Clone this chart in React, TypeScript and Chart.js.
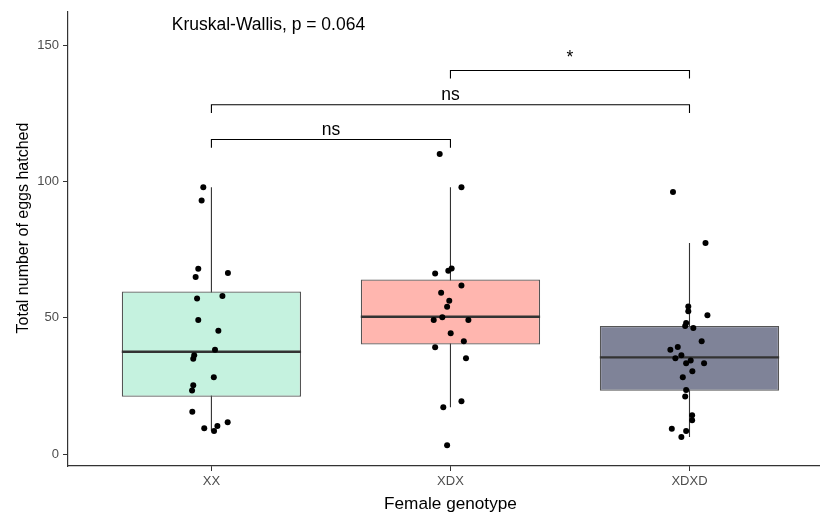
import React, { useEffect, useRef } from 'react';
import { Chart, registerables } from 'chart.js';

Chart.register(...registerables);

const categories = ['XX', 'XDX', 'XDXD'];
const fillColors = ['#C5F2DF', '#FFB6AF', '#7F8398'];

const xxValues = [97.9, 93.0, 68.0, 65.0, 66.4, 57.1, 58.0, 49.2, 45.3, 38.3, 36.3, 35.0, 28.2, 25.3, 23.4, 15.6, 9.5, 10.4, 8.5, 11.7];
const xxJitter = [-0.034, -0.041, -0.055, -0.066, 0.069, -0.06, 0.046, -0.055, 0.029, 0.015, -0.072, -0.076, 0.01, -0.076, -0.081, -0.08, -0.03, 0.025, 0.011, 0.068];

const xdxValues = [110.1, 97.9, 66.3, 67.3, 68.1, 61.9, 59.2, 56.3, 54.1, 49.2, 50.2, 49.2, 44.4, 41.4, 39.2, 35.2, 19.4, 17.2, 3.3];
const xdxJitter = [-0.045, 0.046, -0.064, -0.009, 0.005, 0.046, -0.039, -0.005, -0.014, -0.07, -0.034, 0.075, 0.001, 0.056, -0.064, 0.065, 0.046, -0.03, -0.014];

const xdxdValues = [96.1, 77.4, 54.2, 52.4, 51.0, 48.1, 47.0, 46.3, 41.4, 39.3, 38.3, 36.3, 35.2, 34.4, 33.4, 33.4, 30.4, 28.2, 23.6, 21.2, 14.3, 12.5, 9.4, 8.5, 6.3];
const xdxdJitter = [-0.069, 0.067, -0.005, -0.005, 0.075, -0.014, -0.018, 0.016, 0.051, -0.049, -0.08, -0.034, -0.059, 0.005, -0.014, 0.061, 0.012, -0.028, -0.014, -0.018, 0.011, 0.011, -0.074, -0.014, -0.034];

const q1 = [21.1, 40.2, 23.3];
const medians = [37.6, 50.4, 35.5];
const q3 = [59.7, 64.1, 47.0];
const whiskerLow = [8.5, 17.2, 6.3];
const whiskerHigh = [97.9, 97.9, 77.4];

const yTicks = [0, 50, 100, 150];

const bracketFrom = [1, 1, 2];
const bracketTo = [2, 3, 3];
const bracketY = [115.4, 128.1, 140.7];
const bracketLabels = ['ns', 'ns', '*'];
const bracketDrop = 3;

const testLabel = 'Kruskal-Wallis, p = 0.064';
const testLabelX = 0.834;
const testLabelY = 157.3;

const yTitle = 'Total number of eggs hatched';
const xTitle = 'Female genotype';

const FONT = "'Liberation Sans', Arial, sans-serif";
const AXIS = '#333333';

export default function App() {
  const ref = useRef<HTMLCanvasElement | null>(null);

  useEffect(() => {
    if (!ref.current) return;
    const groups = [
      { v: xxValues, j: xxJitter },
      { v: xdxValues, j: xdxJitter },
      { v: xdxdValues, j: xdxdJitter },
    ];
    const points: { x: number; y: number }[] = [];
    groups.forEach((g, gi) => {
      g.v.forEach((val, i) => points.push({ x: gi + 1 + g.j[i], y: val }));
    });

    const datasets: any[] = [];
    categories.forEach((_, i) => {
      datasets.push({
        type: 'line',
        data: [
          { x: i + 1, y: whiskerLow[i] },
          { x: i + 1, y: whiskerHigh[i] },
        ],
        borderColor: AXIS,
        borderWidth: 1.1,
        pointRadius: 0,
        order: 10,
      });
    });
    datasets.push({
      type: 'bar',
      data: categories.map((_, i) => ({ x: i + 1, y: [q1[i], q3[i]] })),
      backgroundColor: fillColors,
      borderColor: '#555555',
      borderWidth: 1.3,
      borderSkipped: false,
      barPercentage: 0.75,
      categoryPercentage: 1,
      order: 9,
    });
    categories.forEach((_, i) => {
      datasets.push({
        type: 'line',
        data: [
          { x: i + 1 - 0.375, y: medians[i] },
          { x: i + 1 + 0.375, y: medians[i] },
        ],
        borderColor: AXIS,
        borderWidth: 2.4,
        pointRadius: 0,
        order: 8,
      });
    });
    datasets.push({
      type: 'scatter',
      data: points,
      backgroundColor: '#000000',
      borderWidth: 0,
      pointRadius: 3,
      order: 5,
    });
    bracketFrom.forEach((f, i) => {
      const t = bracketTo[i];
      const y = bracketY[i];
      datasets.push({
        type: 'line',
        data: [
          { x: f, y: y - bracketDrop },
          { x: f, y },
          { x: t, y },
          { x: t, y: y - bracketDrop },
        ],
        borderColor: '#000000',
        borderWidth: 1.1,
        pointRadius: 0,
        order: 2,
      });
    });

    const textPlugin = {
      id: 'texts',
      afterDatasetsDraw(chart: any) {
        const ctx = chart.ctx;
        const xs = chart.scales.x;
        const ys = chart.scales.y;
        ctx.save();
        ctx.fillStyle = '#000000';
        ctx.font = `17.5px ${FONT}`;
        ctx.textBaseline = 'alphabetic';
        ctx.textAlign = 'center';
        bracketLabels.forEach((lab, i) => {
          const cx = xs.getPixelForValue((bracketFrom[i] + bracketTo[i]) / 2);
          const cy = ys.getPixelForValue(bracketY[i]) - 4.5 - (lab === '*' ? 3 : 0);
          ctx.fillText(lab, cx, cy);
        });
        ctx.textAlign = 'left';
        ctx.textBaseline = 'middle';
        ctx.fillText(testLabel, xs.getPixelForValue(testLabelX), ys.getPixelForValue(testLabelY));
        // axis titles
        ctx.font = `17.2px ${FONT}`;
        ctx.textAlign = 'center';
        ctx.textBaseline = 'alphabetic';
        ctx.fillText(xTitle, xs.getPixelForValue(2), 509);
        ctx.font = `16px ${FONT}`;
        ctx.translate(28, 228);
        ctx.rotate(-Math.PI / 2);
        ctx.fillText(yTitle, 0, 0);
        ctx.restore();
      },
    };

    const chart = new Chart(ref.current, {
      type: 'bar',
      data: { datasets },
      plugins: [textPlugin],
      options: {
        animation: false,
        responsive: false,
        layout: { autoPadding: false, padding: { top: 11.5, left: 0, right: 0, bottom: 0 } },
        plugins: { legend: { display: false }, tooltip: { enabled: false } },
        scales: {
          x: {
            type: 'linear',
            min: 0.4,
            max: 3.546,
            offset: false,
            grid: { display: true, drawOnChartArea: false, drawTicks: true, tickLength: 5, tickColor: AXIS, offset: false },
            border: { display: true, color: AXIS, width: 1.2 },
            ticks: {
              color: '#4D4D4D',
              font: { family: FONT, size: 13 },
              padding: 3,
              callback: (v: any) => categories[Math.round(v) - 1] ?? '',
            },
            afterBuildTicks: (s: any) => {
              s.ticks = categories.map((_, i) => ({ value: i + 1 }));
            },
            afterFit: (s: any) => {
              s.height = 47;
              s.paddingLeft = 0;
              s.paddingRight = 0;
            },
          },
          y: {
            type: 'linear',
            min: -4.3,
            max: 162.3,
            grid: { display: true, drawOnChartArea: false, drawTicks: true, tickLength: 5, tickColor: AXIS },
            border: { display: true, color: AXIS, width: 1.2 },
            ticks: {
              color: '#4D4D4D',
              font: { family: FONT, size: 13 },
              padding: 4,
            },
            afterBuildTicks: (s: any) => {
              s.ticks = yTicks.map((v) => ({ value: v }));
            },
            afterFit: (s: any) => {
              s.width = 68;
              s.paddingTop = 0;
              s.paddingBottom = 0;
            },
          },
        },
      },
    });
    return () => chart.destroy();
  }, []);

  return (
    <div style={{ position: 'fixed', left: 0, top: 0, width: 820, height: 513, background: '#ffffff' }}>
      <canvas ref={ref} width={820} height={513} />
    </div>
  );
}
